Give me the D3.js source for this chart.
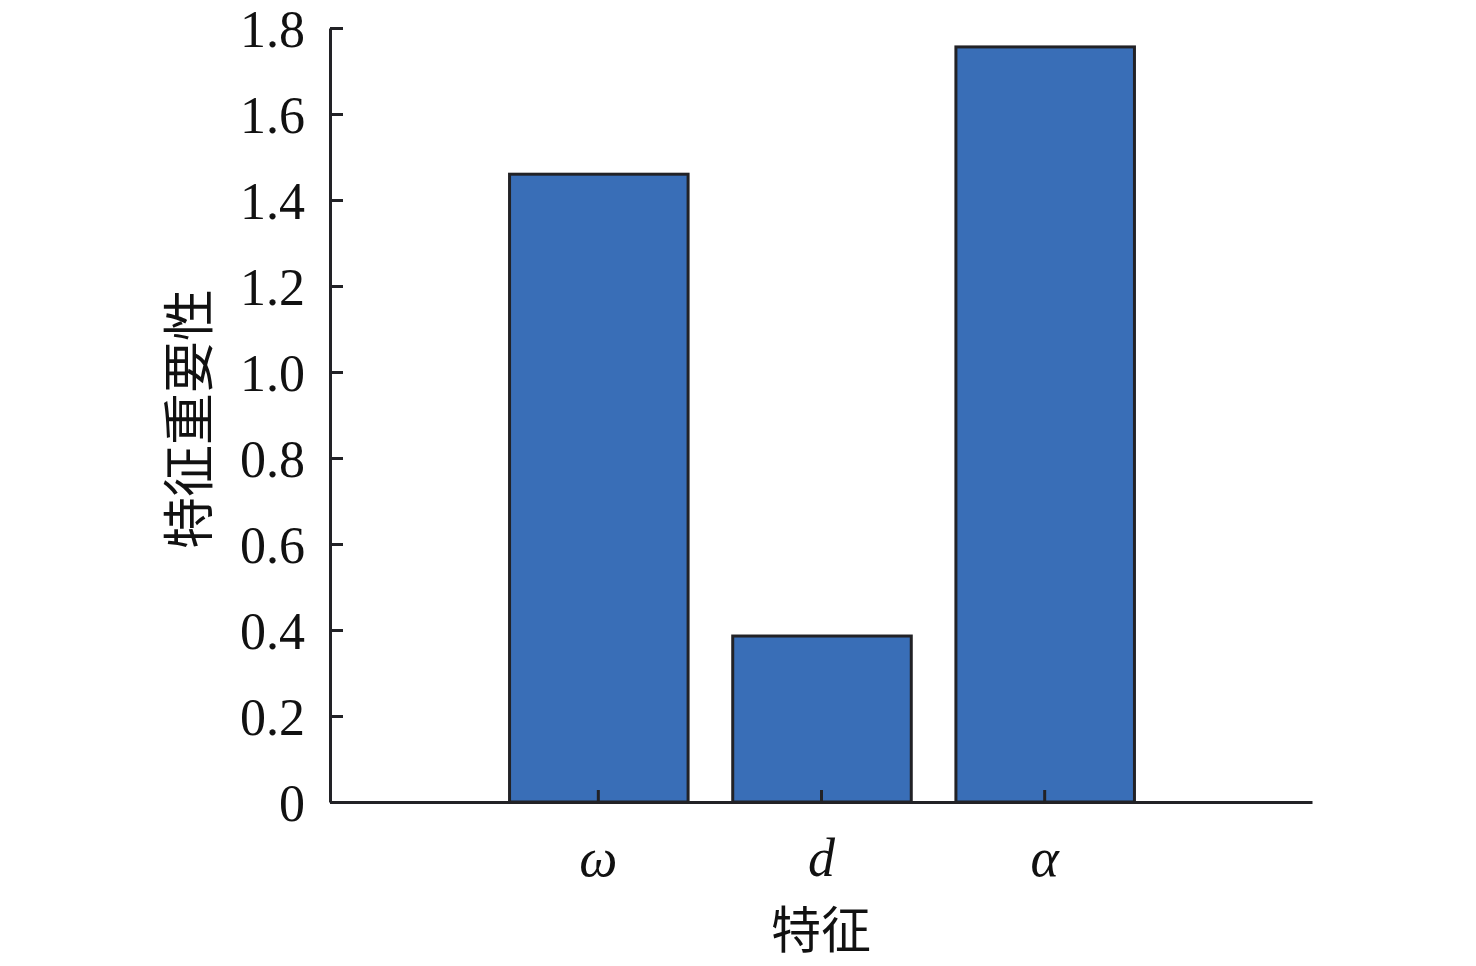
<!DOCTYPE html>
<html><head><meta charset="utf-8">
<script src="https://cdn.jsdelivr.net/npm/d3@7"></script>
<style>body{margin:0;background:#fff}</style>
</head><body>
<svg id="c" width="1476" height="966"></svg>
<script>
const categories = ["ω", "d", "α"];
const values = [1.46, 0.386, 1.756];
const yTicks = [0, 0.2, 0.4, 0.6, 0.8, 1.0, 1.2, 1.4, 1.6, 1.8];
const yTickLabels = ["0", "0.2", "0.4", "0.6", "0.8", "1.0", "1.2", "1.4", "1.6", "1.8"];
const xLabel = "特征", yLabel = "特征重要性";

const svg = d3.select("#c");
const L = 330, R = 1312, T = 28, B = 802;
const x = d3.scaleLinear().domain([-0.2, 4.2]).range([L, R]);
const y = d3.scaleLinear().domain([0, 1.8]).range([B, T]);
const barW = x(0.8) - x(0);
const ink = "#222226";

svg.selectAll("rect.bar").data(values).enter().append("rect")
  .attr("x", (d, i) => x(i + 1) - barW / 2 + 1)
  .attr("y", d => y(d))
  .attr("width", barW)
  .attr("height", d => y(0) - y(d))
  .attr("fill", "#396eb7").attr("stroke", ink).attr("stroke-width", 3);

const yAxis = d3.axisLeft(y).tickValues(yTicks).tickFormat((d, i) => yTickLabels[i]).tickSizeInner(-13).tickSizeOuter(0).tickPadding(25);
const gy = svg.append("g").attr("transform", `translate(${L},0)`).call(yAxis);
const xAxis = d3.axisBottom(x).tickValues([1, 2, 3]).tickFormat((d, i) => categories[i]).tickSizeInner(-12).tickSizeOuter(0).tickPadding(36);
const gx = svg.append("g").attr("transform", `translate(0,${B})`).call(xAxis);

[gy, gx].forEach(g => {
  g.select(".domain").attr("stroke", ink).attr("stroke-width", 3);
  g.selectAll(".tick line").attr("stroke", ink).attr("stroke-width", 3);
  g.selectAll(".tick text").attr("fill", "#111").attr("font-family", "'Liberation Serif','Times New Roman',serif").attr("font-size", 52);
});
gy.selectAll(".tick text").attr("dy", "0.36em");
gx.selectAll(".tick text").attr("font-style", "italic").attr("font-size", 54);

svg.append("text").attr("x", (L + R) / 2).attr("y", 948).attr("text-anchor", "middle")
  .attr("font-family", "'Noto Sans CJK SC',sans-serif").attr("font-size", 50).attr("fill", "#111").text(xLabel);
svg.append("text").attr("transform", `translate(208,${(T + B) / 2 + 4}) rotate(-90)`).attr("text-anchor", "middle")
  .attr("font-family", "'Noto Sans CJK SC',sans-serif").attr("font-size", 52).attr("fill", "#111").text(yLabel);
</script>
</body></html>
